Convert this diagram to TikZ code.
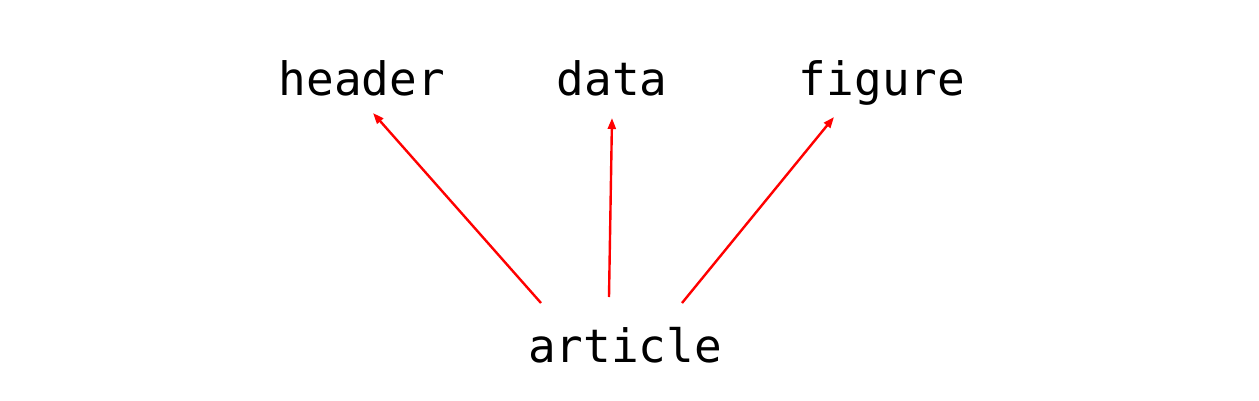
\documentclass[tikz,border=0pt]{standalone}
\usepackage{fontspec}
\setmonofont{DejaVu Sans Mono}
\usetikzlibrary{arrows.meta}
\begin{document}
\begin{tikzpicture}[x=1pt,y=-1pt,
  lbl/.style={font=\ttfamily\fontsize{46}{50}\selectfont, anchor=base, inner sep=0pt},
  link/.style={draw=red, line width=2.4pt, -{Triangle[length=11pt,width=8pt]}}]
\useasboundingbox (0,0) rectangle (1259,400);
\node[lbl] (header) at (362,95) {header};
\node[lbl] (data) at (612,95) {data};
\node[lbl] (figure) at (882,95) {figure};
\node[lbl] (article) at (625,362) {article};
\coordinate (a1) at (541,303);
\coordinate (a2) at (609,297);
\coordinate (a3) at (682,303);
\coordinate (h1) at (373,113);
\coordinate (d1) at (612,118);
\coordinate (f1) at (834,117);
\draw[link] (a1) -- (h1);
\draw[link] (a2) -- (d1);
\draw[link] (a3) -- (f1);
\end{tikzpicture}
\end{document}
